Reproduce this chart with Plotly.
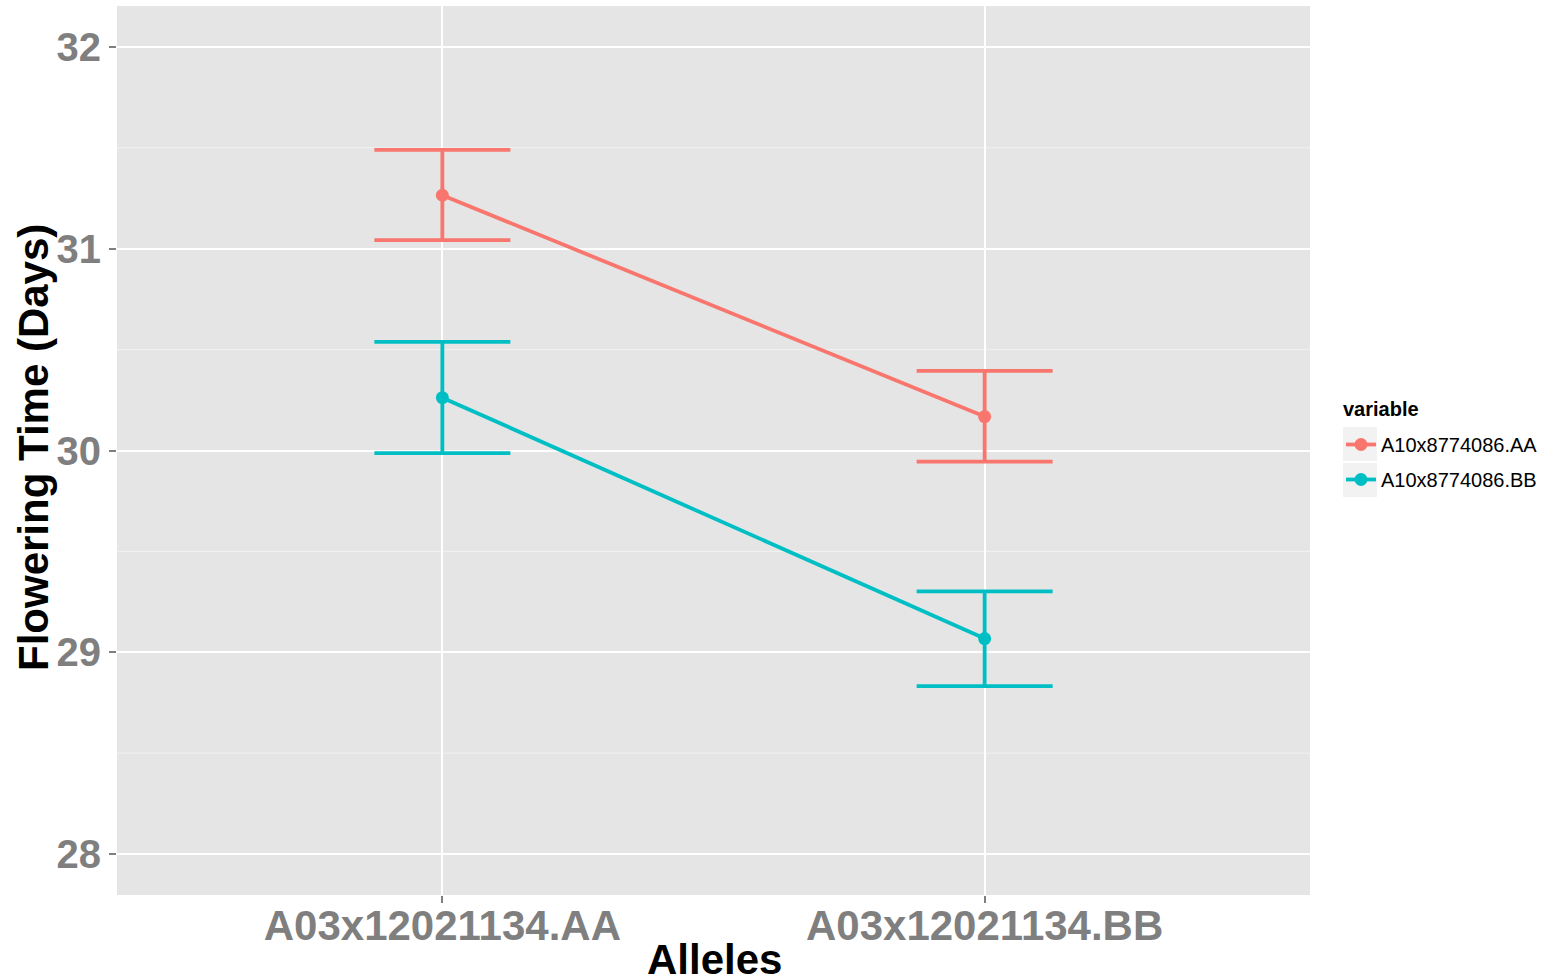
import plotly.graph_objects as go

categories = ["A03x12021134.AA", "A03x12021134.BB"]
series_names = ["A10x8774086.AA", "A10x8774086.BB"]
means = {
    "A10x8774086.AA": [31.265, 30.168],
    "A10x8774086.BB": [30.262, 29.068],
}
upper = {
    "A10x8774086.AA": [31.49, 30.395],
    "A10x8774086.BB": [30.538, 29.302],
}
lower = {
    "A10x8774086.AA": [31.043, 29.945],
    "A10x8774086.BB": [29.987, 28.832],
}
colors = {"A10x8774086.AA": "#F8766D", "A10x8774086.BB": "#00BFC4"}
y_ticks = [28, 29, 30, 31, 32]

FONT = "Liberation Sans, Arial, sans-serif"
L, R, T, B = 117, 1310, 6, 895  # plot area in pixels
W, H = 1554, 980


def px_x(p):
    return (p - L) / (R - L)


def px_y(p):
    return (B - p) / (B - T)


fig = go.Figure()
for i, name in enumerate(series_names):
    m = means[name]
    fig.add_trace(go.Scatter(
        x=categories, y=m, name=name, mode="lines+markers", legendgroup=f"g{i}",
        line=dict(color=colors[name], width=3.8),
        marker=dict(color=colors[name], size=13),
        error_y=dict(type="data", symmetric=False,
                     array=[u - v for u, v in zip(upper[name], m)],
                     arrayminus=[v - l for v, l in zip(m, lower[name])],
                     color=colors[name], thickness=3.8, width=68),
    ))

# minor gridlines at half-units
for yv in [27.5 + i * 0.5 for i in range(10)]:
    if yv not in y_ticks and 27.8 < yv < 32.2:
        fig.add_shape(type="line", xref="paper", yref="y", x0=0, x1=1, y0=yv, y1=yv,
                      line=dict(color="#f2f2f2", width=1), layer="below")

# legend key backgrounds
for i in range(2):
    top = 427 + 36 * i
    fig.add_shape(type="rect", xref="paper", yref="paper",
                  x0=px_x(1343), x1=px_x(1377), y0=px_y(top + 34), y1=px_y(top),
                  fillcolor="#f2f2f2", line=dict(width=0), layer="below")

annotations = [
    dict(text="<b>Flowering Time (Days)</b>", xref="paper", yref="paper",
         x=px_x(33), y=px_y(448), xanchor="center", yanchor="middle", textangle=-90,
         showarrow=False, font=dict(size=42, color="black", family=FONT)),
    dict(text="<b>Alleles</b>", xref="paper", yref="paper",
         x=px_x(714), y=px_y(959), xanchor="center", yanchor="middle",
         showarrow=False, font=dict(size=42, color="black", family=FONT)),
    dict(text="<b>variable</b>", xref="paper", yref="paper",
         x=px_x(1341), y=px_y(409), xanchor="left", yanchor="middle",
         showarrow=False, font=dict(size=20, color="black", family=FONT)),
]

fig.update_layout(
    width=W, height=H,
    paper_bgcolor="white", plot_bgcolor="#e5e5e5",
    margin=dict(l=L, r=W - R, t=T, b=H - B),
    font=dict(family=FONT),
    showlegend=True,
    annotations=annotations,
    legend=dict(
        font=dict(size=20, color="black", family=FONT),
        x=px_x(1341), xanchor="left", xref="paper", y=px_y(425), yanchor="top",
        bgcolor="rgba(0,0,0,0)", itemwidth=30, tracegroupgap=6,
    ),
    xaxis=dict(
        range=[-0.6, 1.6], showgrid=True, gridcolor="white", gridwidth=2,
        zeroline=False, ticks="outside", ticklen=7, tickwidth=1.5, tickcolor="#7f7f7f",
        tickfont=dict(size=42, color="#7f7f7f", family=FONT, weight="bold"),
        ticklabelstandoff=-13,
        automargin=False,
    ),
    yaxis=dict(
        range=[27.797, 32.203], tickvals=y_ticks, showgrid=True, gridcolor="white", gridwidth=2,
        zeroline=False, ticks="outside", ticklen=7, tickwidth=1.5, tickcolor="#7f7f7f",
        tickfont=dict(size=40, color="#7f7f7f", family=FONT, weight="bold"),
        automargin=False,
    ),
)

fig.write_html("out.html", post_script="document.body.style.margin='0';",
               config={"displayModeBar": False})
